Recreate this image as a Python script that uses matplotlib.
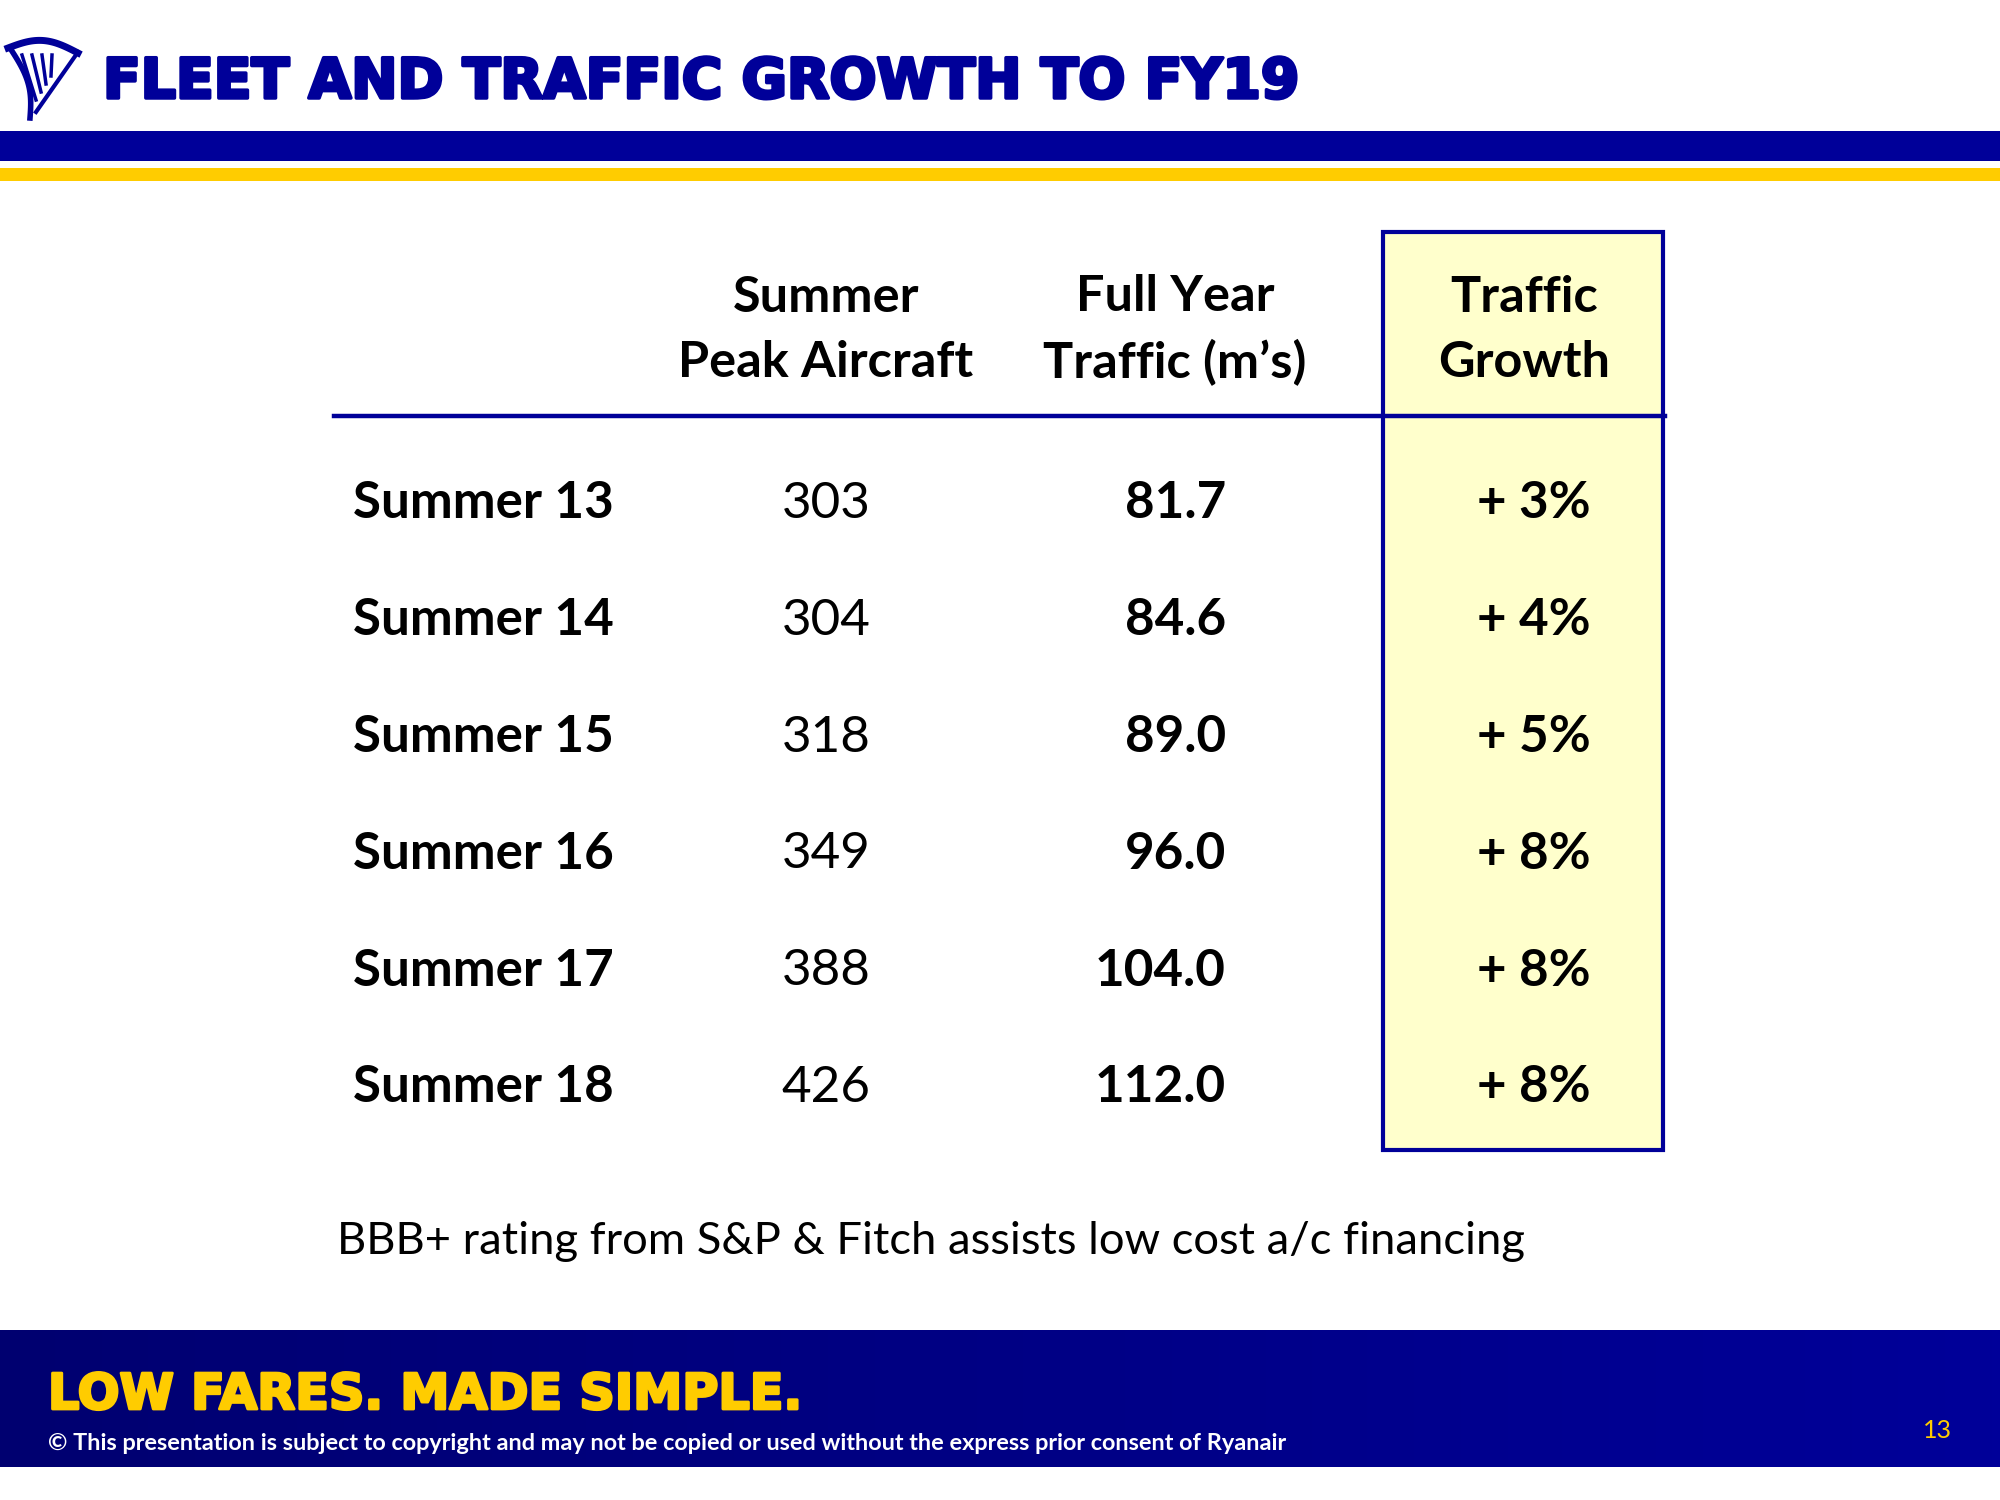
import matplotlib.pyplot as plt
import numpy as np
from matplotlib.patches import Rectangle
from matplotlib.colors import LinearSegmentedColormap
import matplotlib.patheffects as pe

navy = '#000099'
yellow = '#FFCC00'

seasons = ['Summer 13', 'Summer 14', 'Summer 15', 'Summer 16', 'Summer 17', 'Summer 18']
aircraft = [303, 304, 318, 349, 388, 426]
traffic = [81.7, 84.6, 89.0, 96.0, 104.0, 112.0]
growth = [3, 4, 5, 8, 8, 8]
headers = ['Summer\nPeak Aircraft', 'Full Year\nTraffic (m\u2019s)', 'Traffic\nGrowth']

body_font = 'Lato'

fig = plt.figure(figsize=(20, 15), dpi=100)
ax = fig.add_axes([0, 0, 1, 1])

# header bars
ax.add_patch(Rectangle((0, 131), 2000, 30, color=navy, lw=0))
ax.add_patch(Rectangle((0, 168), 2000, 13, color=yellow, lw=0))

# logo (rough harp)
t = np.linspace(0, 1, 50)
ax.plot(10 + 20 * t + 8 * np.sin(t * np.pi), 48 + 70 * t, color=navy, lw=4)
ax.plot(8 + 70 * t, 48 - 10 * np.sin(t * np.pi) + 5 * t, color=navy, lw=5)
for k in range(4):
    ax.plot([22 + k * 10, 36 + k * 5], [55, 100 - k * 8], color=navy, lw=2.5)
ax.plot([36, 78], [112, 52], color=navy, lw=3)

heavy = [pe.withStroke(linewidth=2.5, foreground=navy)]
ax.text(103, 83, 'FLEET AND TRAFFIC GROWTH TO FY19', color=navy, fontsize=39.8,
        fontweight='heavy', family='DejaVu Sans', va='center', ha='left', path_effects=heavy)

# highlight column
ax.add_patch(Rectangle((1383, 232), 280, 918, facecolor='#FFFFCC', edgecolor=navy, lw=3))
ax.plot([334, 1665], [416, 416], color=navy, lw=3.2)

col_x = [826, 1175, 1524]
for x, h in zip(col_x, headers):
    ax.text(x, 330, h, ha='center', va='center', fontsize=36.3, fontweight='bold',
            family=body_font, linespacing=1.52)

row_y = 504 + 116.8 * np.arange(len(seasons))
for y, s, a, tr, g in zip(row_y, seasons, aircraft, traffic, growth):
    ax.text(353, y, s, ha='left', va='center', fontsize=36.8, fontweight='bold', family=body_font)
    ax.text(826, y, f'{a}', ha='center', va='center', fontsize=36.8, family=body_font)
    ax.text(1226, y, f'{tr:.1f}', ha='right', va='center', fontsize=36.8, fontweight='bold', family=body_font)
    ax.text(1591, y, f'+ {g}%', ha='right', va='center', fontsize=36.8, fontweight='bold', family=body_font)

ax.text(337, 1242, 'BBB+ rating from S&P & Fitch assists low cost a/c financing',
        ha='left', va='center', fontsize=32.7, family=body_font)

# footer gradient
grad = np.linspace(0, 1, 256).reshape(1, -1)
cmap = LinearSegmentedColormap.from_list('foot', ['#000070', '#000099'])
ax.imshow(grad, cmap=cmap, extent=(0, 2000, 1467, 1330), aspect='auto', zorder=0)
ax.set_xlim(0, 2000)
ax.set_ylim(1500, 0)
ax.axis('off')

ax.text(48, 1395, 'LOW FARES. MADE SIMPLE.', color=yellow, fontsize=35.5,
        fontweight='heavy', family='DejaVu Sans', va='center', ha='left',
        path_effects=[pe.withStroke(linewidth=2, foreground=yellow)])
ax.text(48, 1444, '\u00a9 This presentation is subject to copyright and may not be copied or used without the express prior consent of Ryanair',
        color='white', fontsize=16.9, fontweight='bold', family=body_font, va='center', ha='left')
ax.text(1952, 1430, '13', color=yellow, fontsize=18, family=body_font, va='center', ha='right')

fig.savefig('out.png', dpi=100)
